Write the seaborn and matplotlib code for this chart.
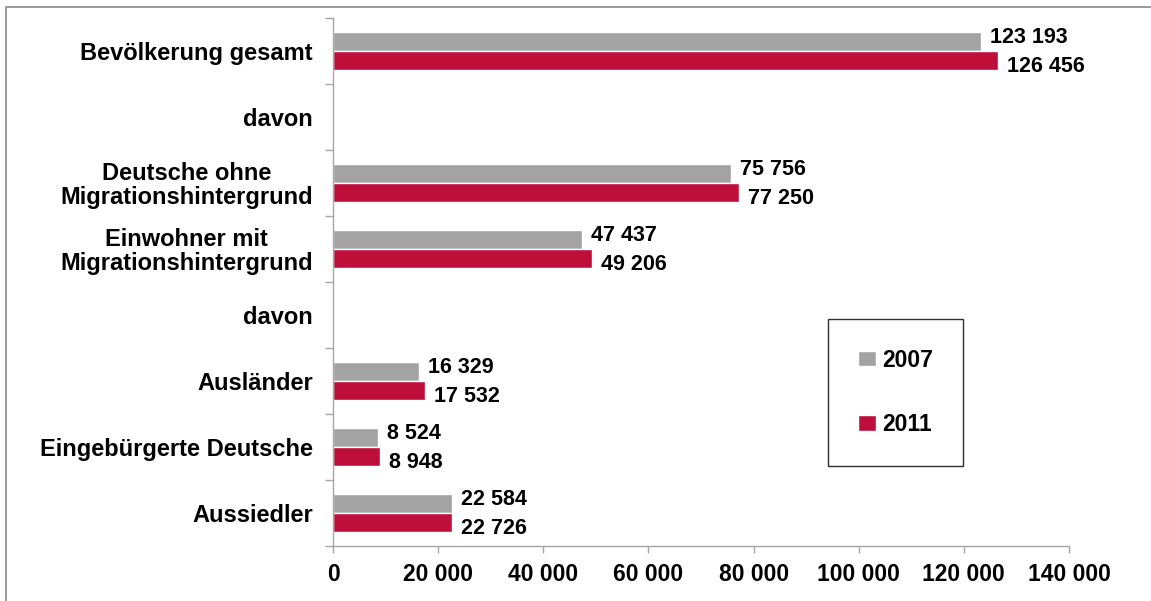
import seaborn as sns
import matplotlib.pyplot as plt
import pandas as pd
from matplotlib.patches import Rectangle

# Werte
kategorien = ["Bevölkerung gesamt", "davon", "Deutsche ohne\nMigrationshintergrund",
              "Einwohner mit\nMigrationshintergrund", "davon", "Ausländer",
              "Eingebürgerte Deutsche", "Aussiedler"]
jahre = ["2007", "2011"]
werte_2007 = [123193, None, 75756, 47437, None, 16329, 8524, 22584]
werte_2011 = [126456, None, 77250, 49206, None, 17532, 8948, 22726]
x_ticks = [0, 20000, 40000, 60000, 80000, 100000, 120000, 140000]

farben = {"2007": "#A3A3A3", "2011": "#BE0F3B"}

def fmt(v):
    return f"{int(round(v)):,}".replace(",", " ")

keys = [f"k{i}" for i in range(len(kategorien))]
rows = []
for k, a, b in zip(keys, werte_2007, werte_2011):
    if a is not None:
        rows.append({"kat": k, "jahr": "2007", "wert": a})
    if b is not None:
        rows.append({"kat": k, "jahr": "2011", "wert": b})
df = pd.DataFrame(rows)

sns.set_style("white")
plt.rcParams["font.family"] = ["Liberation Sans", "DejaVu Sans"]
plt.rcParams["font.weight"] = "bold"
plt.rcParams["text.color"] = "black"
plt.rcParams["xtick.color"] = "black"
plt.rcParams["ytick.color"] = "black"

W, H = 1151, 601
fig = plt.figure(figsize=(W / 100, H / 100), dpi=100)
ax = fig.add_axes([333 / W, 1 - 546 / H, (1069 - 333) / W, (546 - 18) / H])

sns.barplot(data=df, y="kat", x="wert", hue="jahr", order=keys, hue_order=jahre,
            palette=farben, orient="h", width=0.58, gap=0, ax=ax, legend=True,
            saturation=1)

# Datenbeschriftung
offsets = {0: 4, 1: -6}
for i, cont in enumerate(ax.containers):
    for p in cont.patches:
        w = p.get_width()
        yc = p.get_y() + p.get_height() / 2
        ax.annotate(fmt(w), (w, yc), xytext=(9, offsets[i]), textcoords="offset pixels",
                    ha="left", va="center", fontsize=15.5, fontweight="bold", color="black")

ax.set_xlim(0, 140000)
ax.set_xticks(x_ticks)
ax.set_xticklabels([fmt(t) for t in x_ticks], fontsize=16.5, fontweight="bold")
ax.set_yticks(range(len(kategorien)))
ax.set_yticklabels(kategorien, fontsize=17, fontweight="bold", multialignment="center",
                   linespacing=1.05)
ax.set_yticks([i - 0.5 for i in range(len(kategorien) + 1)], minor=True)
ax.set_ylim(len(kategorien) - 0.5, -0.5)
ax.set_xlabel("")
ax.set_ylabel("")

achse = "#A6A6A6"
ax.tick_params(axis="y", which="major", length=0, pad=14.5, labelcolor="black")
ax.tick_params(axis="y", which="minor", length=6, width=1, color=achse, left=True)
ax.tick_params(axis="x", which="major", length=5, width=1, color=achse, bottom=True, pad=7,
               labelcolor="black")
for s in ["top", "right"]:
    ax.spines[s].set_visible(False)
for s in ["left", "bottom"]:
    ax.spines[s].set_color(achse)
    ax.spines[s].set_linewidth(1)

handles, labels = ax.get_legend_handles_labels()
leg = ax.legend(handles, labels, loc="upper left", bbox_to_anchor=(828 / W, 1 - 319 / H),
                bbox_transform=fig.transFigure, borderaxespad=0, frameon=True, fancybox=False,
                edgecolor="#303030", framealpha=1, prop={"size": 16.5, "weight": "bold"},
                handlelength=0.8, handleheight=0.65, handletextpad=0.25, labelspacing=1.8,
                borderpad=1.3)
leg.get_frame().set_linewidth(1)
for t in leg.get_texts():
    t.set_color("black")

# Rahmen um die gesamte Grafik
fig.patches.append(Rectangle((6 / W, -0.05), 1.1, 1.05 - 7.5 / H, transform=fig.transFigure,
                             fill=False, edgecolor="#8A8A8A", linewidth=1.2, clip_on=False))

fig.savefig("out.png", dpi=100)
